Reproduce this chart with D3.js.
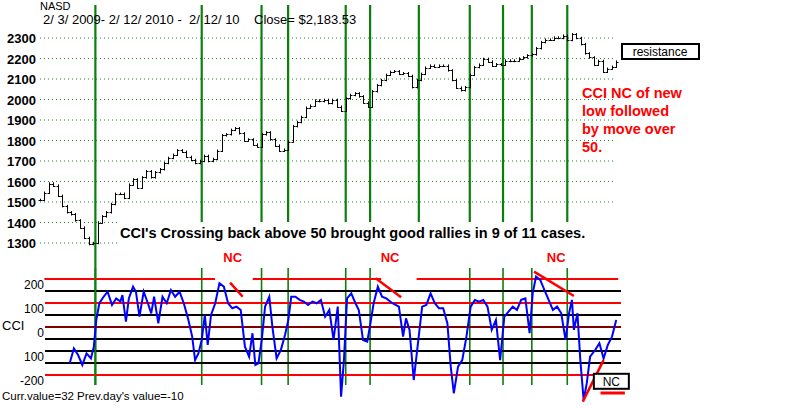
<!DOCTYPE html>
<html><head><meta charset="utf-8">
<script src="https://cdn.jsdelivr.net/npm/d3@7"></script>
<style>body{margin:0;background:#fff}svg{display:block}text{font-family:Arial,"Liberation Sans",sans-serif}</style>
</head><body><svg id="c" width="800" height="408"></svg>
<script>
// closes every 2 trading days, 2/3/2009 .. 2/12/2010
const closes = [1510,1545,1590,1580,1530,1480,1450,1440,1410,1375,1325,1295,1300,1400,1430,1450,1490,1540,1540,1520,
1585,1610,1570,1620,1650,1620,1645,1660,1690,1715,1730,1752,1745,1720,1705,1690,1700,1725,1700,1710,
1750,1825,1830,1852,1860,1835,1800,1805,1780,1770,1830,1840,1805,1775,1750,1755,1795,1870,1890,1915,
1960,1970,1995,1992,1998,1982,1998,1965,1945,2005,2022,2030,2015,1985,1965,2040,2070,2095,2120,2135,
2138,2125,2128,2115,2060,2095,2125,2155,2165,2160,2165,2165,2142,2095,2058,2045,2060,2120,2158,2170,
2198,2185,2165,2172,2170,2190,2188,2190,2200,2205,2215,2220,2250,2280,2292,2292,2302,2300,2312,2290,
2318,2300,2270,2225,2205,2170,2188,2135,2150,2160,2185];
const priceTicks = [1300,1400,1500,1600,1700,1800,1900,2000,2100,2200,2300];
const cciDays = [13.4,15.3,17.2,19.1,21,23,24.3,25.4,26.8,28.7,30.5,32.5,34.4,36.3,37.2,38.8,40.1,42,43.3,44.9,46.8,48.7,50.2,51.5,53.4,55.3,57.2,59.1,61,63,64.9,66.8,68.7,70,71.5,73,74.4,75.7,77.2,79.1,81,83,84.9,86.8,88.7,90.6,92.5,94.4,95.9,97.2,98.6,100.1,101.6,103.5,104.9,106.8,108.7,110.6,112.1,113.4,115.3,117.2,119.1,121,123,124.9,126.8,128.7,130.6,132.5,134.4,135.9,137.2,138.6,140.5,142.4,143.9,145.8,147.7,148.9,150.6,152.5,154.4,156.3,159.1,162,163.9,165.2,166.8,168.7,170.6,172.5,174.4,176.3,178.2,180.1,182,183.9,185.4,186.8,188.7,190.6,192.5,194.4,196.3,198.2,200.1,202,203.9,205.8,207.7,209.6,211.5,213.4,215.3,217.2,219.1,221,222.4,223.9,225.8,227.7,229.6,231.5,233.4,235.3,237.2,238.8,240.1,241,242.6,243.9,245.4,246.8,248.3,250.6,252.5,254.4,256.3,258.2,260.1];
const cciVals = [-101,-39,-67,-108,-60,-81,-32,79,149,176,197,142,169,156,183,72,169,218,197,93,197,149,107,176,65,176,149,204,176,197,149,86,10,-88,-60,-4,100,-25,100,149,232,218,149,128,135,121,-32,-74,24,-108,-101,-4,135,176,51,-81,-46,17,79,176,176,163,156,142,156,149,163,93,121,-4,135,-240,-88,169,190,149,121,-4,-11,51,149,218,176,169,149,135,10,86,38,-171,-18,135,142,190,149,128,128,65,-115,-226,-115,-88,10,135,163,156,163,135,38,79,-88,93,114,135,121,163,169,24,190,260,246,204,163,121,135,107,-4,107,163,38,107,-88,-254,-185,-74,-46,-18,-81,-25,10,79];
const signalDays = [25,73,100,112,138,149,171,194,209,222,238];
const cciSignalDays = [25,73,100,112,138,149,194,209,222,238];
const cciLabels = [[200,"200"],[100,"100"],[0,"0"],[-100,"100"],[-200,"-200"]];
const cciBlack = [200,100,0,-50,-100];
const cciRed = [150,-150];
const redTopSegments = [[2,79],[96,154],[170,261]];
const ncDiagonals = [[[85.8,235],[91.5,176]],[[151.5,253],[163,174]],[[223,281],[241,179]],[[245,-261],[254.4,-88]]];
const ncLabelDays = [87,158,233];

const svg = d3.select("#c");
const x = d3.scaleLinear([0,260],[40,616]);
const xi = d3.scaleLinear([0,closes.length-1],[40,616]);
const y = d3.scaleLinear([1300,2300],[243,38]);
const yc = d3.scaleLinear([-200,200],[387,291]);

svg.append("g").selectAll("line").data(priceTicks).join("line")
 .attr("x1",40).attr("x2",d=>d<1500?118:616).attr("y1",d=>y(d)).attr("y2",d=>y(d))
 .attr("stroke","#208020").attr("stroke-dasharray","1,3");
svg.append("g").selectAll("text").data(priceTicks).join("text")
 .attr("x",36).attr("y",d=>y(d)+5).attr("text-anchor","end").attr("font-size",13).attr("font-weight","bold").text(d=>d);

const vl = svg.append("g").attr("stroke","#0a800a").attr("stroke-width",2.2);
vl.selectAll(".t").data(signalDays).join("line").attr("x1",d=>x(d)).attr("x2",d=>x(d))
 .attr("y1",5).attr("y2",(d,i)=>i==0?385:222);
vl.selectAll(".b").data(cciSignalDays.slice(1)).join("line").attr("x1",d=>x(d)).attr("x2",d=>x(d))
 .attr("y1",268).attr("y2",385).attr("stroke-width",1.6);

const pb = svg.append("g").attr("stroke","#000").attr("stroke-width",1);
closes.forEach((c,i)=>{
  const o = i? closes[i-1]:c;
  const hi = Math.max(o,c)+6, lo = Math.min(o,c)-6, xx = Math.round(xi(i))+0.5;
  pb.append("line").attr("x1",xx).attr("x2",xx).attr("y1",y(hi)).attr("y2",y(lo));
  pb.append("line").attr("x1",xx).attr("x2",xx+2).attr("y1",Math.round(y(c))+0.5).attr("y2",Math.round(y(c))+0.5);
  pb.append("line").attr("x1",xx-2).attr("x2",xx).attr("y1",Math.round(y(o))+0.5).attr("y2",Math.round(y(o))+0.5);
});

svg.append("text").attr("x",40).attr("y",10).attr("font-size",11).text("NASD");
svg.append("text").attr("x",43).attr("y",24).attr("font-size",13).attr("xml:space","preserve").text("2/ 3/ 2009- 2/ 12/ 2010 -  2/ 12/ 10    Close= $2,183.53");
svg.append("text").attr("x",120).attr("y",238).attr("font-size",14.5).attr("font-weight","bold").text("CCI's Crossing back above 50 brought good rallies in 9 of 11 cases.");
["CCI NC of new","low followed","by move over","50."].forEach((t,i)=>
 svg.append("text").attr("x",582).attr("y",98+i*18).attr("font-size",14.5).attr("font-weight","bold").attr("fill","#f00").text(t));
svg.append("rect").attr("x",622).attr("y",44).attr("width",77).attr("height",15).attr("fill","none").attr("stroke","#000").attr("stroke-width",2);
svg.append("text").attr("x",660).attr("y",56).attr("text-anchor","middle").attr("font-size",12).text("resistance");
svg.selectAll(".nc").data(ncLabelDays).join("text").attr("x",d=>x(d)).attr("y",262).attr("text-anchor","middle")
 .attr("font-size",13).attr("font-weight","bold").attr("fill","#f00").text("NC");

svg.append("g").selectAll("line").data(cciBlack).join("line").attr("x1",45).attr("x2",621)
 .attr("y1",d=>yc(d)).attr("y2",d=>yc(d)).attr("stroke","#000").attr("stroke-width",2);
svg.append("line").attr("x1",45).attr("x2",621).attr("y1",yc(50)).attr("y2",yc(50)).attr("stroke","#800000").attr("stroke-width",2);
svg.append("g").selectAll("line").data(cciRed).join("line").attr("x1",45).attr("x2",621)
 .attr("y1",d=>yc(d)).attr("y2",d=>yc(d)).attr("stroke","#f00").attr("stroke-width",2);
svg.append("g").selectAll("line").data(redTopSegments).join("line").attr("x1",d=>x(d[0])).attr("x2",d=>x(d[1]))
 .attr("y1",yc(250)).attr("y2",yc(250)).attr("stroke","#f00").attr("stroke-width",2);
svg.append("line").attr("x1",x(cciSignalDays[0])).attr("x2",x(cciSignalDays[0])).attr("y1",268).attr("y2",385).attr("stroke","#0a800a").attr("stroke-width",1.6);

svg.append("path").datum(cciDays.map((d,i)=>[d,cciVals[i]]))
 .attr("d",d3.line().x(d=>x(d[0])).y(d=>yc(d[1]))).attr("fill","none").attr("stroke","#0000ff").attr("stroke-width",2);

svg.append("g").selectAll("line").data(ncDiagonals).join("line")
 .attr("x1",d=>x(d[0][0])).attr("y1",d=>yc(d[0][1])).attr("x2",d=>x(d[1][0])).attr("y2",d=>yc(d[1][1]))
 .attr("stroke","#f00").attr("stroke-width",2.5);
svg.append("rect").attr("x",x(250)).attr("y",yc(-145)).attr("width",35).attr("height",15).attr("fill","#fff").attr("stroke","#000").attr("stroke-width",2);
svg.append("text").attr("x",x(250)+17.5).attr("y",yc(-145)+12).attr("text-anchor","middle").attr("font-size",12).text("NC");
svg.append("line").attr("x1",x(253)).attr("x2",x(264)).attr("y1",yc(-225)).attr("y2",yc(-225)).attr("stroke","#f00").attr("stroke-width",3);

svg.selectAll(".cl").data(cciLabels).join("text").attr("x",44).attr("y",d=>yc(d[0])-2).attr("text-anchor","end")
 .attr("font-size",12).text(d=>d[1]);
svg.append("text").attr("x",2).attr("y",330).attr("font-size",13).text("CCI");
svg.append("text").attr("x",2).attr("y",400).attr("font-size",11.5).text("Curr.value=32 Prev.day's value=-10");
</script></body></html>
